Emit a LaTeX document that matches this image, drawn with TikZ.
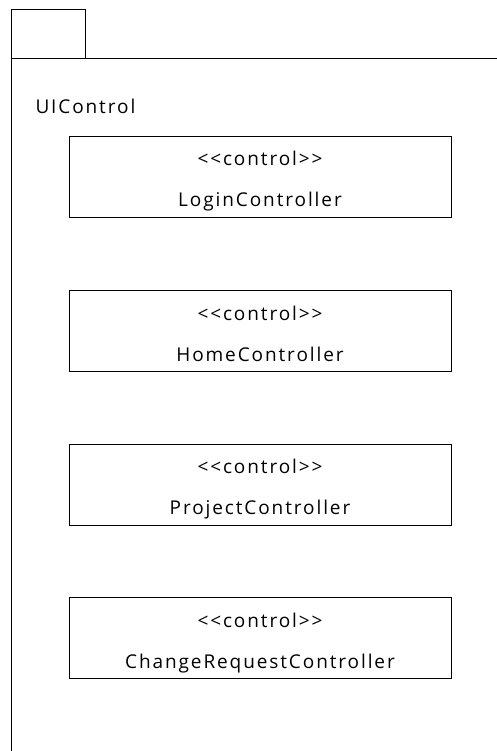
\documentclass[tikz,border=0pt]{standalone}
\usepackage{fontspec}
\setmainfont{Open Sans}[LetterSpace=10,Ligatures=TeXOff]
\begin{document}
\begin{tikzpicture}[x=1pt,y=-1pt,line width=1pt,
  ctrlbox/.style={draw,rectangle,minimum width=382pt,minimum height=81pt,inner sep=0pt},
  lbl/.style={anchor=base,inner sep=0pt,font=\fontsize{19pt}{22pt}\selectfont}]
\useasboundingbox (0,0) rectangle (497,751);
% package tab and body
\draw (11,59) rectangle (85.5,9.5);
\draw (497,59) -- (11,59) -- (11,751);
\node[lbl,anchor=base west] (pkg) at (35,114) {UIControl};
% controller classes
\foreach \n/\t/\y in {login/LoginController/136,home/HomeController/290,project/ProjectController/443.5,change/ChangeRequestController/597}{
  \node[ctrlbox,anchor=north] (\n) at (260,\y) {};
  \node[lbl] (\n-st) at ([yshift=-30pt]\n.north) {<<control>>};
  \node[lbl] (\n-name) at ([yshift=-71pt]\n.north) {\t};
}
\end{tikzpicture}
\end{document}
